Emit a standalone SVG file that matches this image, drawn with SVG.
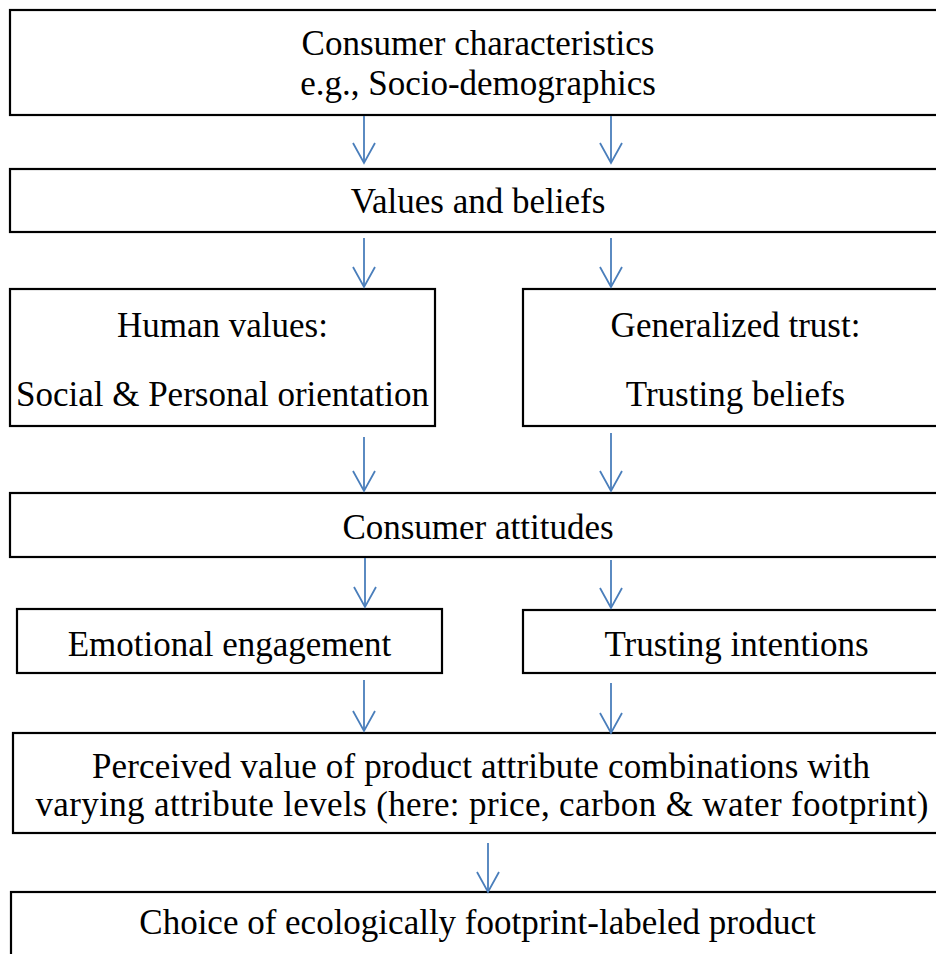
<svg xmlns="http://www.w3.org/2000/svg" width="936" height="954" viewBox="0 0 936 954">
<style>
.box{fill:#fff;stroke:#000;stroke-width:2.2}
.t{font-family:"Liberation Serif","Times New Roman",serif;font-size:35px;fill:#000;text-anchor:middle}
.c{stroke:#4A7EBB;stroke-width:1.8;fill:none}
</style>
<defs>
<marker id="ah" viewBox="-23 -13 25 26" refX="0" refY="0" markerWidth="25" markerHeight="26" markerUnits="userSpaceOnUse" orient="auto">
<path d="M-20,-11 L0,0 L-20,11" fill="none" stroke="#4A7EBB" stroke-width="1.8"/>
</marker>
</defs>
<rect width="936" height="954" fill="#fff"/>
<g id="n1"><rect class="box" x="10" y="10" width="938" height="105"/>
<text class="t" x="478" y="55">Consumer characteristics</text>
<text class="t" x="478" y="95">e.g., Socio-demographics</text></g>
<g id="n2"><rect class="box" x="10" y="169" width="938" height="63"/>
<text class="t" x="478" y="213">Values and beliefs</text></g>
<g id="n3"><rect class="box" x="10" y="289" width="425" height="137"/>
<text class="t" x="222.5" y="337">Human values:</text>
<text class="t" x="222.5" y="406">Social &amp; Personal orientation</text></g>
<g id="n4"><rect class="box" x="523" y="289" width="425" height="137"/>
<text class="t" x="735.5" y="337">Generalized trust:</text>
<text class="t" x="735.5" y="406">Trusting beliefs</text></g>
<g id="n5"><rect class="box" x="10" y="493" width="938" height="64"/>
<text class="t" x="478" y="539">Consumer attitudes</text></g>
<g id="n6"><rect class="box" x="17" y="609" width="425" height="64"/>
<text class="t" x="229.5" y="656">Emotional engagement</text></g>
<g id="n7"><rect class="box" x="523" y="610" width="427" height="63"/>
<text class="t" x="736.5" y="656">Trusting intentions</text></g>
<g id="n8"><rect class="box" x="13" y="733" width="936" height="100"/>
<text class="t" x="481" y="778" textLength="778" lengthAdjust="spacing">Perceived value of product attribute combinations with</text>
<text class="t" x="482" y="816" textLength="893" lengthAdjust="spacing">varying attribute levels (here: price, carbon &amp; water footprint)</text></g>
<g id="n9"><rect class="box" x="11" y="892" width="936" height="80"/>
<text class="t" x="477.5" y="934">Choice of ecologically footprint-labeled product</text></g>
<g id="connectors" class="c" marker-end="url(#ah)">
<line x1="364" y1="116" x2="364" y2="163"/>
<line x1="611" y1="116" x2="611" y2="163"/>
<line x1="364" y1="238" x2="364" y2="287"/>
<line x1="611" y1="238" x2="611" y2="287"/>
<line x1="364" y1="437" x2="364" y2="491"/>
<line x1="611" y1="433" x2="611" y2="491"/>
<line x1="365" y1="558" x2="365" y2="607"/>
<line x1="611" y1="560" x2="611" y2="608"/>
<line x1="364" y1="680" x2="364" y2="731"/>
<line x1="611" y1="683" x2="611" y2="733"/>
<line x1="488" y1="843" x2="488" y2="892"/>
</g>
</svg>
